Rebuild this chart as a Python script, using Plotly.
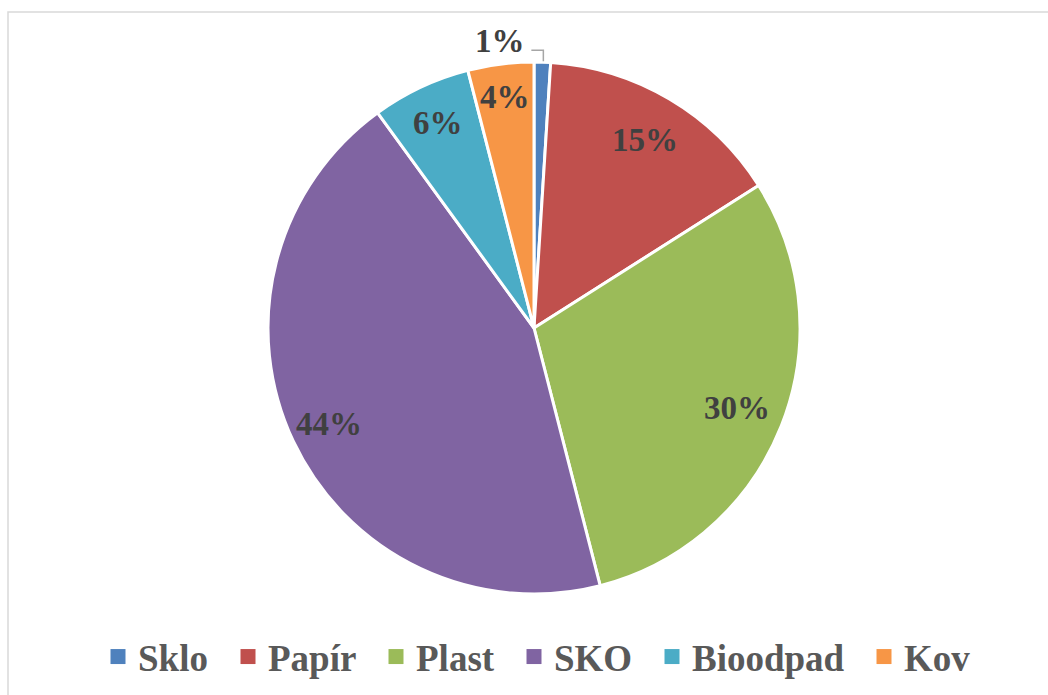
import math
import plotly.graph_objects as go

categories = ["Sklo", "Papír", "Plast", "SKO", "Bioodpad", "Kov"]
values = [1, 15, 30, 44, 6, 4]
colors = ["#4F81BD", "#C0504D", "#9BBB59", "#8064A2", "#4BACC6", "#F79646"]

# layout: radial position of each in-slice label (fraction of radius)
label_rfrac = [None, 0.82, 0.82, 0.85, 0.85, 0.875]
# layout: left edge (px) of each legend entry's text
legend_text_x = [138, 268, 416, 554, 692, 904]

W, H = 1048, 695
cx, cy, R = 534, 328, 266
TXT = "#404040"
FONT = "Liberation Serif"
LEG_Y = 657

fig = go.Figure()
fig.add_trace(go.Pie(
    labels=categories,
    values=values,
    sort=False,
    direction="clockwise",
    rotation=0,
    marker=dict(colors=colors, line=dict(color="white", width=3)),
    textinfo="none",
    showlegend=False,
    domain=dict(x=[(cx - 300) / W, (cx + 300) / W], y=[1 - (cy + R) / H, 1 - (cy - R) / H]),
    hoverinfo="label+percent",
))

# legend entries (square markers), one legend box per entry
legend_layouts = {}
for i, (name, col) in enumerate(zip(categories, colors)):
    lname = "legend" if i == 0 else f"legend{i + 1}"
    fig.add_trace(go.Scatter(
        x=[None], y=[None], mode="markers", name=name, legend=lname,
        marker=dict(symbol="square", size=15, color=col),
        hoverinfo="skip",
    ))
    legend_layouts[lname] = dict(
        orientation="h",
        x=(legend_text_x[i] - 40) / W, xanchor="left",
        y=1 - LEG_Y / H, yanchor="middle",
        bgcolor="rgba(0,0,0,0)",
        font=dict(family=FONT, size=37, color="#595959", weight="bold"),
        itemclick=False, itemdoubleclick=False,
    )

# percentage labels computed from the data
total = sum(values)
annotations = []
shapes = []
cum = 0.0
for i, v in enumerate(values):
    mid = (cum + v / 2) / total
    cum += v
    th = 2 * math.pi * mid
    pct = f"{round(100 * v / total)}%"
    if label_rfrac[i] is None:
        ex = cx + R * math.sin(th)
        ey = cy - R * math.cos(th)
        p = [(ex + 1, ey - 1), (ex + 1, ey - 12), (ex - 11, ey - 12)]
        path = "M{},{} L{},{} L{},{}".format(
            p[0][0] / W, 1 - p[0][1] / H, p[1][0] / W, 1 - p[1][1] / H, p[2][0] / W, 1 - p[2][1] / H)
        shapes.append(dict(type="path", xref="paper", yref="paper", path=path,
                           line=dict(color="#A6A6A6", width=1.5)))
        annotations.append(dict(
            x=(ex - 15) / W, y=1 - (ey - 21) / H, xref="paper", yref="paper",
            text=f"<b>{pct}</b>", showarrow=False, xanchor="right", yanchor="middle",
            font=dict(family=FONT, size=33, color=TXT)))
    else:
        r = R * label_rfrac[i]
        lx = cx + r * math.sin(th)
        ly = cy - r * math.cos(th)
        annotations.append(dict(
            x=lx / W, y=1 - ly / H, xref="paper", yref="paper",
            text=f"<b>{pct}</b>", showarrow=False, xanchor="center", yanchor="middle",
            font=dict(family=FONT, size=33, color=TXT)))

shapes.append(dict(type="rect", xref="paper", yref="paper",
                   x0=8 / W, y0=1 - 12 / H, x1=1.02, y1=-0.02,
                   line=dict(color="#D9D9D9", width=1.5), fillcolor="rgba(0,0,0,0)"))

fig.update_layout(
    width=W, height=H,
    margin=dict(l=0, r=0, t=0, b=0),
    paper_bgcolor="white",
    plot_bgcolor="white",
    font=dict(family=FONT, color="#595959"),
    xaxis=dict(visible=False),
    yaxis=dict(visible=False),
    showlegend=True,
    annotations=annotations,
    shapes=shapes,
    **legend_layouts,
)

fig.write_html("out.html", config={"displayModeBar": False},
               post_script="document.body.style.margin='0';document.body.style.overflow='hidden';")
